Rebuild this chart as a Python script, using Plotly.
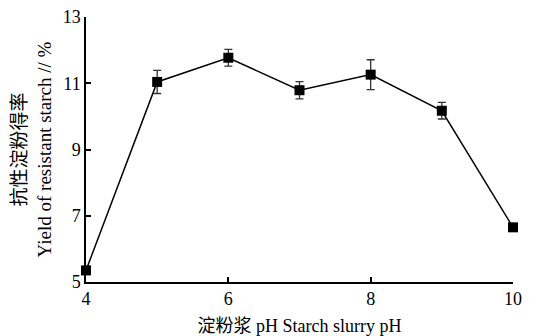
import plotly.graph_objects as go

# Resistant starch yield versus starch slurry pH
ph = [4, 5, 6, 7, 8, 9, 10]
yield_pct = [5.35, 11.04, 11.77, 10.79, 11.26, 10.17, 6.65]
yield_err = [0.12, 0.35, 0.25, 0.26, 0.45, 0.25, 0.1]

x_ticks = [4, 6, 8, 10]
y_ticks = [5, 7, 9, 11, 13]

font_family = "Liberation Serif, Noto Sans CJK SC, serif"

fig = go.Figure(
    go.Scatter(
        x=ph,
        y=yield_pct,
        mode="lines+markers",
        line=dict(color="black", width=1.5),
        marker=dict(symbol="square", size=10, color="black"),
        error_y=dict(type="data", array=yield_err, visible=True,
                     color="#333333", thickness=1.3, width=4),
        cliponaxis=False,
        showlegend=False,
    )
)

axis_common = dict(
    showline=True,
    linecolor="black",
    linewidth=1.5,
    ticks="inside",
    ticklen=5,
    tickwidth=1.5,
    tickcolor="black",
    showgrid=False,
    zeroline=False,
    automargin=False,
    tickfont=dict(family=font_family, size=18, color="black"),
)

fig.update_xaxes(
    range=[4, 10],
    tickvals=x_ticks,
    title=dict(text="淀粉浆 pH Starch slurry pH",
               font=dict(family=font_family, size=18, color="black"),
               standoff=13),
    **axis_common,
)
fig.update_yaxes(
    range=[5, 13],
    tickvals=y_ticks,
    title=dict(text="抗性淀粉得率<br>Yield of resistant starch // %",
               font=dict(family=font_family, size=19, color="black"),
               standoff=6),
    **axis_common,
)

fig.update_layout(
    width=541,
    height=336,
    margin=dict(l=86, r=28, t=17, b=54),
    paper_bgcolor="white",
    plot_bgcolor="white",
)

fig.write_html("out.html")
